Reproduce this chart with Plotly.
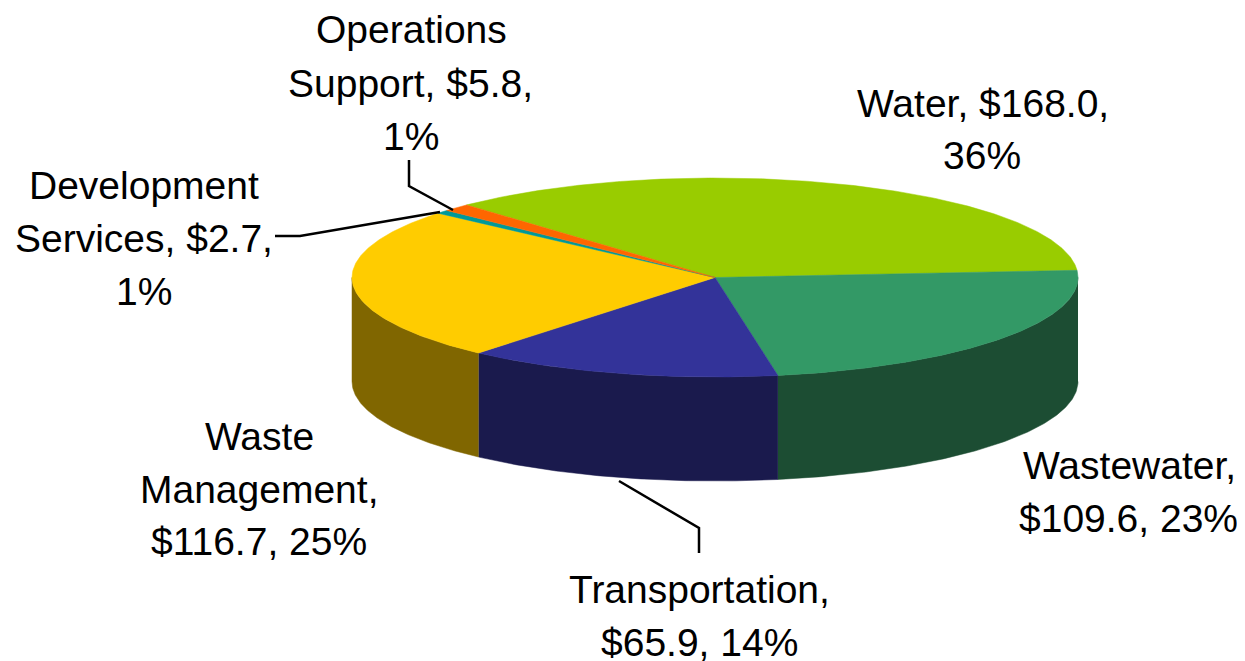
"""Budget split drawn as a tilted pie with a visible rim."""

import numpy as np
import plotly.graph_objects as go

CATEGORIES = ["Water", "Wastewater", "Transportation", "Waste Management",
              "Development Services", "Operations Support"]
VALUES = [168.0, 109.6, 65.9, 116.7, 2.7, 5.8]
TOP_COLORS = ["#99CC00", "#339966", "#333399", "#FFCC00", "#009999", "#FF6600"]
SIDE_COLORS = ["#4D6600", "#1C4D33", "#1A1A4D", "#806600", "#004D4D", "#803300"]

# (text, x, y) per label line, in picture pixels
LABEL_LINES = [
    ("Operations", 411, 29), ("Support, $5.8,", 410, 83), ("1%", 411, 136),
    ("Water, $168.0,", 983, 103), ("36%", 982, 155),
    ("Development", 144, 185), ("Services, $2.7,", 144, 238), ("1%", 144, 291),
    ("Waste", 259, 436), ("Management,", 259, 489), ("$116.7, 25%", 259, 541),
    ("Wastewater,", 1129, 465), ("$109.6, 23%", 1128, 518),
    ("Transportation,", 699, 589), ("$65.9, 14%", 699, 642),
]
LEADERS = [
    ([409, 409, 453], [160, 186, 210]),
    ([275, 300, 440], [236, 236, 212]),
    ([619, 699, 699], [481, 528, 553]),
]

CX, CY = 715, 277.5
RX, RY = 363, 99.5
DEPTH = 104
START_ANGLE = -43.2  # clockwise from 12 o'clock
PAGE_MARGIN = 8  # the browser's default body margin


def arc(a, b, y0):
    t = np.radians(np.linspace(a, b, max(int(abs(b - a) * 2), 2)))
    return CX + RX * np.sin(t), y0 - RY * np.cos(t)


fig = go.Figure()
edges = START_ANGLE + np.concatenate([[0], np.cumsum(VALUES)]) / sum(VALUES) * 360

# rim first, only the front half of the pie shows it
for i, name in enumerate(CATEGORIES):
    a, b = max(edges[i], 90), min(edges[i + 1], 270)
    if b <= a:
        continue
    tx, ty = arc(a, b, CY)
    bx, by = arc(b, a, CY + DEPTH)
    fig.add_trace(go.Scatter(
        x=np.concatenate([tx, bx]), y=np.concatenate([ty, by]),
        mode="lines", fill="toself", fillcolor=SIDE_COLORS[i],
        line=dict(color=SIDE_COLORS[i], width=0.5), hoverinfo="skip",
    ))

for i, name in enumerate(CATEGORIES):
    ax, ay = arc(edges[i], edges[i + 1], CY)
    fig.add_trace(go.Scatter(
        x=np.concatenate([[CX], ax, [CX]]), y=np.concatenate([[CY], ay, [CY]]),
        mode="lines", fill="toself", fillcolor=TOP_COLORS[i],
        line=dict(color=TOP_COLORS[i], width=0.5), name=name, hoverinfo="name",
    ))

for lx, ly in LEADERS:
    fig.add_trace(go.Scatter(x=lx, y=ly, mode="lines",
                             line=dict(color="black", width=2.5), hoverinfo="skip"))

for text, x, y in LABEL_LINES:
    fig.add_annotation(text=text, x=x, y=y, xref="x", yref="y", showarrow=False,
                       xanchor="center", yanchor="middle",
                       font=dict(family="Liberation Sans", size=39, color="black"))

fig.update_layout(
    width=1245 - PAGE_MARGIN, height=661 - PAGE_MARGIN, showlegend=False,
    margin=dict(l=0, r=0, t=0, b=0),
    paper_bgcolor="white", plot_bgcolor="white",
    xaxis=dict(range=[PAGE_MARGIN, 1245], visible=False, fixedrange=True),
    yaxis=dict(range=[661, PAGE_MARGIN], visible=False, fixedrange=True),
)
fig.write_html("out.html", config={"displayModeBar": False})
